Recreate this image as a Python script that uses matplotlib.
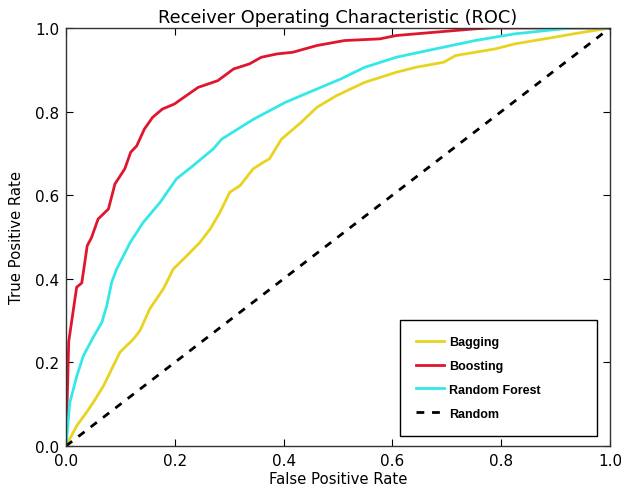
import matplotlib
matplotlib.use("Agg")
import matplotlib.pyplot as plt

bag_fpr = [0.0, 0.020, 0.038, 0.050, 0.069, 0.087, 0.099, 0.124, 0.136, 0.154, 0.179, 0.197, 0.222,
           0.246, 0.265, 0.283, 0.301, 0.320, 0.344, 0.363, 0.374, 0.396, 0.432, 0.461, 0.497,
           0.549, 0.607, 0.643, 0.694, 0.716, 0.789, 0.825, 0.898, 0.942, 1.0]
bag_tpr = [0.0, 0.049, 0.081, 0.104, 0.144, 0.192, 0.224, 0.256, 0.276, 0.328, 0.376, 0.423, 0.455,
           0.487, 0.519, 0.559, 0.607, 0.623, 0.663, 0.679, 0.687, 0.734, 0.774, 0.810, 0.838,
           0.870, 0.894, 0.906, 0.918, 0.934, 0.950, 0.962, 0.978, 0.988, 1.0]

boost_fpr = [0.0, 0.005, 0.0196, 0.029, 0.039, 0.047, 0.059, 0.078, 0.09, 0.108, 0.119, 0.13, 0.144,
             0.159, 0.177, 0.199, 0.221, 0.243, 0.279, 0.308, 0.337, 0.359, 0.388, 0.417, 0.461,
             0.512, 0.577, 0.607, 0.679, 0.752, 0.78, 1.0]
boost_tpr = [0.0, 0.25, 0.380, 0.39, 0.479, 0.499, 0.543, 0.567, 0.627, 0.663, 0.703, 0.718, 0.758,
             0.786, 0.806, 0.818, 0.838, 0.858, 0.874, 0.902, 0.914, 0.930, 0.938, 0.942, 0.958,
             0.970, 0.974, 0.982, 0.990, 0.998, 1.0, 1.0]

rf_fpr = [0.0, 0.007, 0.020, 0.032, 0.050, 0.066, 0.075, 0.084, 0.093, 0.118, 0.142, 0.173, 0.203,
          0.234, 0.271, 0.286, 0.345, 0.403, 0.461, 0.505, 0.549, 0.607, 0.679, 0.752, 0.825,
          0.898, 0.93, 1.0]
rf_tpr = [0.0, 0.104, 0.168, 0.216, 0.260, 0.296, 0.336, 0.392, 0.423, 0.487, 0.535, 0.583, 0.639,
          0.671, 0.711, 0.734, 0.782, 0.822, 0.854, 0.878, 0.906, 0.930, 0.950, 0.970, 0.986,
          0.996, 1.0, 1.0]

rand_x = [0.0, 1.0]
rand_y = [0.0, 1.0]

fig = plt.figure(figsize=(6.21, 4.89), dpi=100)
ax = fig.add_axes([66/621, (489-447)/489, 544/621, 418/489])

ax.plot(bag_fpr, bag_tpr, color="#e8d420", lw=2, label="Bagging")
ax.plot(boost_fpr, boost_tpr, color="#e0162e", lw=2, label="Boosting")
ax.plot(rf_fpr, rf_tpr, color="#35e8e8", lw=2, label="Random Forest")
ax.plot(rand_x, rand_y, color="black", lw=2, ls=(0, (2.8, 2.8)), label="Random")

ax.set_xlim(0, 1)
ax.set_ylim(0, 1)
ax.set_xticks([0.0, 0.2, 0.4, 0.6, 0.8, 1.0])
ax.set_yticks([0.0, 0.2, 0.4, 0.6, 0.8, 1.0])
ax.tick_params(direction="in", top=True, right=True, length=5, labelsize=11, pad=5)
for s in ax.spines.values():
    s.set_linewidth(1.0)
    s.set_color("#333333")

ax.set_title("Receiver Operating Characteristic (ROC)", fontsize=12.8, pad=4)
ax.set_xlabel("False Positive Rate", fontsize=10.7, labelpad=2)
ax.set_ylabel("True Positive Rate", fontsize=10.7, labelpad=8)

leg = ax.legend(loc="lower left", bbox_to_anchor=(0.614, 0.024, 0.362, 0.275), mode="expand",
                borderaxespad=0,
                prop={"family": "Liberation Sans", "weight": "bold", "size": 9},
                fancybox=False, edgecolor="black", framealpha=1,
                handlelength=2.2, labelspacing=0.95, borderpad=1.3, handletextpad=0.4)
leg.get_frame().set_linewidth(1.0)

fig.savefig("out.png", dpi=100)
